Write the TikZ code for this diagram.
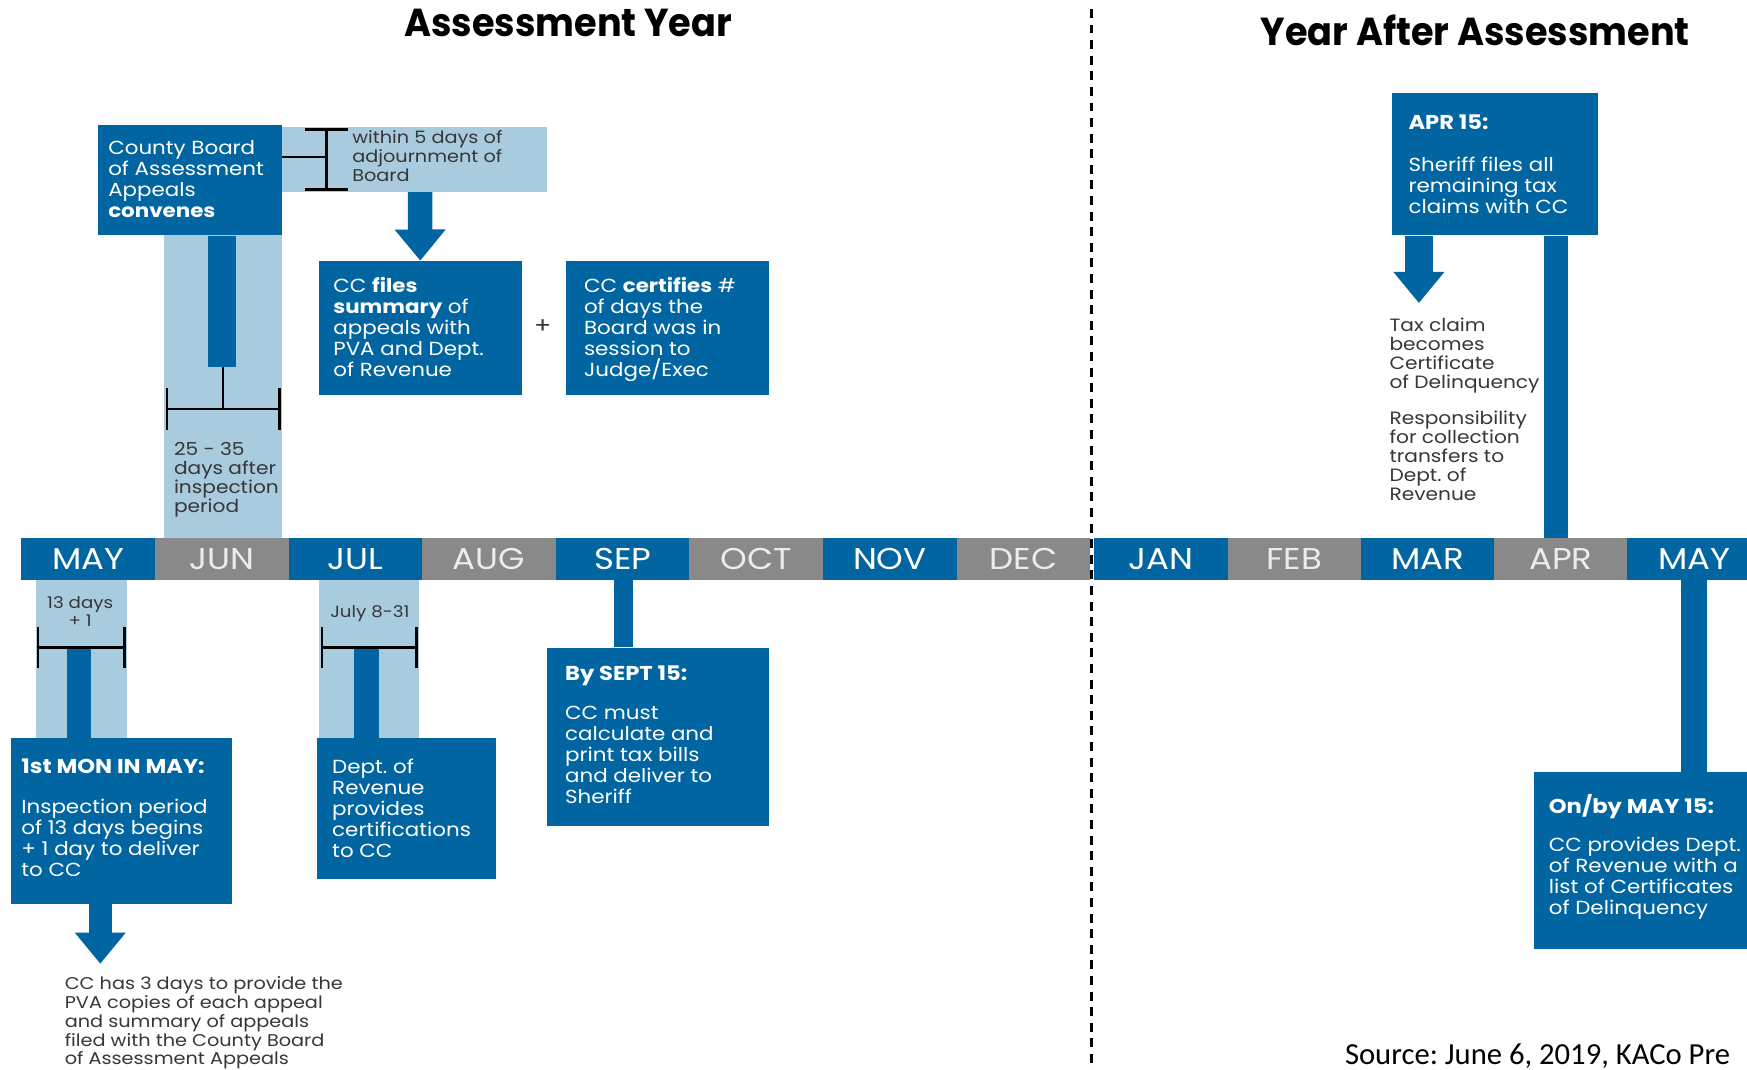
\documentclass[tikz,border=0pt]{standalone}
\usepackage{fontspec}
\setmainfont{Poppins}[FakeStretch=1.13]
\newfontfamily\titlefont{Poppins}[FakeStretch=0.94]
\newfontfamily\calibrifont{Carlito}
\usetikzlibrary{arrows.meta,calc}
\definecolor{cblue}{RGB}{0,101,160}
\definecolor{clight}{RGB}{168,203,222}
\definecolor{cgray}{RGB}{137,137,137}
\definecolor{ctext}{RGB}{55,55,55}
\definecolor{cmonth}{RGB}{236,236,236}
\frenchspacing
\begin{document}
\begin{tikzpicture}[x=1pt,y=-1pt,
  boxtxt/.style={font=\fontsize{17}{18.8}\selectfont, text=white, align=left, anchor=north west, inner sep=0pt},
  headtxt/.style={font=\fontsize{18}{19}\selectfont\bfseries, text=white, anchor=north west, inner sep=0pt},
  notetxt/.style={font=\fontsize{15.3}{17}\selectfont, text=ctext, align=left, anchor=north west, inner sep=0pt},
  bluebox/.style={fill=cblue, draw=none, anchor=north west, inner sep=0pt},
  lightbox/.style={fill=clight, draw=none, anchor=north west, inner sep=0pt},
  monthbox/.style={anchor=north west, inner sep=0pt, minimum height=37pt, font=\fontsize{27}{27}\selectfont},
  stem/.style={draw=cblue},
  blockarrow/.style={draw=cblue, -{Triangle[width=44pt,length=28pt]}},
  bracket/.style={draw=black, line width=2.2pt, {Bar[width=37pt]}-{Bar[width=37pt]}},
  titletxt/.style={font=\titlefont\fontsize{35}{35}\selectfont\bfseries, text=black, inner sep=0pt},
]
\useasboundingbox (0,0) rectangle (1568,960);
\clip (0,0) rectangle (1568,960);
\fill[white] (0,0) rectangle (1568,960);

% titles
\node[titletxt] (t1) at (510,21) {Assessment Year};
\node[titletxt] (t2) at (1324,27) {Year After Assessment};

% dashed divider
\coordinate (dtop) at (980,8);
\coordinate (dbot) at (980,962);
\draw[black, line width=2.5pt, dash pattern=on 8pt off 6pt] (dtop) -- (dbot);

% light strips
\node[lightbox, minimum width=238pt, minimum height=58pt] (lsh) at (253,114) {};
\node[lightbox, minimum width=106pt, minimum height=272pt] (lsv) at (147,211) {};
\node[lightbox, minimum width=82pt, minimum height=142pt] (lmay) at (32,520) {};
\node[lightbox, minimum width=90pt, minimum height=142pt] (ljul) at (286,520) {};

% months
\foreach \i/\m/\c/\t in {0/MAY/cblue/white,1/JUN/cgray/cmonth,2/JUL/cblue/white,3/AUG/cgray/cmonth,4/SEP/cblue/white,5/OCT/cgray/cmonth,6/NOV/cblue/white,7/DEC/cgray/cmonth}{
  \node[monthbox, fill=\c, text=\t, minimum width=120.2pt] (m\i) at ({19+119.9*\i},483) {\m};
}
\foreach \i/\m/\c/\t in {8/JAN/cblue/white,9/FEB/cgray/cmonth,10/MAR/cblue/white,11/APR/cgray/cmonth,12/MAY/cblue/white}{
  \node[monthbox, fill=\c, text=\t, minimum width=119.9pt] (m\i) at ({982+119.6*(\i-8)},483) {\m};
}

% blue boxes
\node[bluebox, minimum width=165pt, minimum height=99pt] (cba) at (88,112) {};
\node[bluebox, minimum width=182pt, minimum height=120pt] (cfiles) at (286,234) {};
\node[bluebox, minimum width=182pt, minimum height=120pt] (ccert) at (508,234) {};
\node[bluebox, minimum width=198pt, minimum height=149pt] (mon) at (10,662) {};
\node[bluebox, minimum width=161pt, minimum height=127pt] (dor) at (284,662) {};
\node[bluebox, minimum width=199pt, minimum height=160pt] (sept) at (491,581) {};
\node[bluebox, minimum width=185pt, minimum height=128pt] (apr) at (1249,83) {};
\node[bluebox, minimum width=220pt, minimum height=159pt] (onby) at (1377,693) {};

% stems
\coordinate (junend) at (199.5,329);
\draw[stem, line width=25pt] (cba.south -| junend) -- (junend);
\coordinate (maytop) at (71,580);
\draw[stem, line width=22pt] (maytop) -- (mon.north -| maytop);
\coordinate (jultop) at (329,580);
\draw[stem, line width=22pt] (jultop) -- (dor.north -| jultop);
\coordinate (sepx) at (559.5,0);
\draw[stem, line width=17pt] (m4.south -| sepx) -- (sept.north -| sepx);
\coordinate (aprx) at (1396.5,0);
\draw[stem, line width=21pt] (apr.south -| aprx) -- (m11.north -| aprx);
\draw[stem, line width=23pt] (m12.south) -- (onby.north -| m12.south);

% block arrows
\coordinate (a1x) at (377,0);
\draw[blockarrow, line width=22pt] (lsh.south -| a1x) -- (cfiles.north);
\coordinate (a2x) at (90,0);
\coordinate (a2tip) at (90,865);
\draw[blockarrow, line width=21pt] (mon.south -| a2x) -- (a2tip);
\coordinate (a3x) at (1273.5,0);
\coordinate (a3tip) at (1273.5,272);
\draw[blockarrow, line width=25pt] (apr.south -| a3x) -- (a3tip);

% brackets
\coordinate (bt1) at (293,115);
\coordinate (bt2) at (293,171);
\coordinate (btm) at (293,141);
\draw[bracket, {Bar[width=39pt]}-{Bar[width=39pt]}] (bt1) -- (bt2);
\draw[black, line width=2.2pt] (cba.east |- btm) -- (btm);
\coordinate (bj1) at (149,367);
\coordinate (bj2) at (252,367);
\coordinate (bjm) at (200,367);
\draw[bracket] (bj1) -- (bj2);
\draw[black, line width=2pt] (junend -| bjm) -- (bjm);
\coordinate (bm1) at (33,581);
\coordinate (bm2) at (113,581);
\draw[bracket] (bm1) -- (bm2);
\coordinate (bl1) at (288,581);
\coordinate (bl2) at (375,581);
\draw[bracket] (bl1) -- (bl2);

% plus
\node[font=\fontsize{20}{20}\selectfont, text=ctext, inner sep=0pt] (plus) at (487,293) {+};

% texts
\node[boxtxt] (tcba) at (97,126) {County Board\\of Assessment\\Appeals\\\textbf{convenes}};
\node[notetxt] (twithin) at (316,117) {within 5 days of\\adjournment of\\Board};
\node[notetxt, font=\fontsize{16}{17}\selectfont] (t2535) at (156,397) {25 - 35\\days after\\inspection\\period};
\node[boxtxt] (tfiles) at (299,249) {CC \textbf{files}\\\textbf{summary} of\\appeals with\\PVA and Dept.\\of Revenue};
\node[boxtxt] (tcert) at (524,249) {CC \textbf{certifies} \#\\of days the\\Board was in\\session to\\Judge/Exec};
\node[notetxt, font=\fontsize{14.5}{16}\selectfont, align=center, anchor=north] (t13) at (72,535) {13 days\\+ 1};
\node[notetxt, font=\fontsize{14.5}{16}\selectfont, anchor=north] (tjuly) at (332,543) {July 8-31};
\node[headtxt] (hmon) at (19,681) {1st MON IN MAY:};
\node[boxtxt] (tmon) at (19,717) {Inspection period\\of 13 days begins\\+ 1 day to deliver\\to CC};
\node[notetxt] (tcc3) at (58,876) {CC has 3 days to provide the\\PVA copies of each appeal\\and summary of appeals\\filed with the County Board\\of Assessment Appeals};
\node[boxtxt] (tdor) at (298,681) {Dept. of\\Revenue\\provides\\certifications\\to CC};
\node[headtxt] (hsept) at (507,597) {By SEPT 15:};
\node[boxtxt] (tsept) at (507,634) {CC must\\calculate and\\print tax bills\\and deliver to\\Sheriff};
\node[headtxt] (hapr) at (1264,103) {APR 15:};
\node[boxtxt] (tapr) at (1264,141) {Sheriff files all\\remaining tax\\claims with CC};
\node[notetxt, font=\fontsize{16}{17}\selectfont] (ttax) at (1247,285) {Tax claim\\becomes\\Certificate\\of Delinquency};
\node[notetxt, font=\fontsize{16}{17}\selectfont] (tresp) at (1247,369) {Responsibility\\for collection\\transfers to\\Dept. of\\Revenue};
\node[headtxt] (honby) at (1390,713) {On/by MAY 15:};
\node[boxtxt] (tonby) at (1390,751) {CC provides Dept.\\of Revenue with a\\list of Certificates\\of Delinquency};
\node[anchor=base west, inner sep=0pt, font=\calibrifont\fontsize{27.5}{27.5}\selectfont] (src) at (1207,955) {Source: June 6, 2019, KACo Pre};
\end{tikzpicture}
\end{document}
